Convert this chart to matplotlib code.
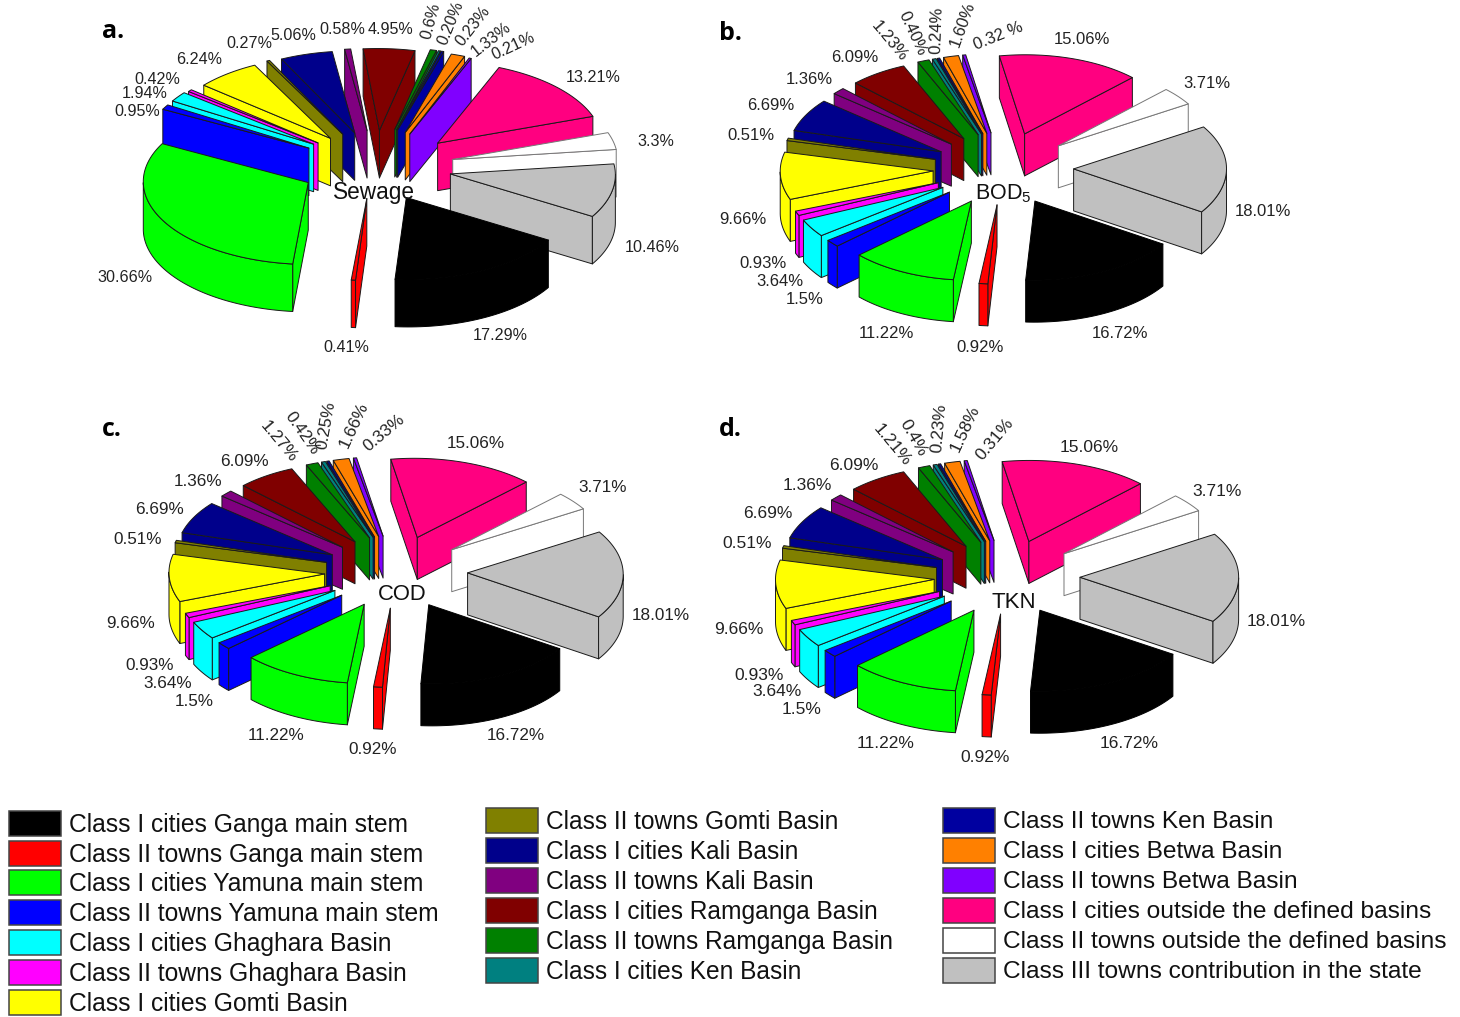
import numpy as np
import matplotlib
matplotlib.use("Agg")
import matplotlib.pyplot as plt
from matplotlib.patches import Polygon, Rectangle

plt.rcParams['font.family'] = ['Liberation Sans', 'DejaVu Sans']
plt.rcParams['mathtext.default'] = 'regular'

# ---------- data ----------
categories = [
    "Class I cities Ganga main stem", "Class II towns Ganga main stem",
    "Class I cities Yamuna main stem", "Class II towns Yamuna main stem",
    "Class I cities Ghaghara Basin", "Class II towns Ghaghara Basin",
    "Class I cities Gomti Basin", "Class II towns Gomti Basin",
    "Class I cities Kali Basin", "Class II towns Kali Basin",
    "Class I cities Ramganga Basin", "Class II towns Ramganga Basin",
    "Class I cities Ken Basin", "Class II towns Ken Basin",
    "Class I cities Betwa Basin", "Class II towns Betwa Basin",
    "Class I cities outside the defined basins",
    "Class II towns outside the defined basins",
    "Class III towns contribution in the state",
]
sewage = [17.29, 0.41, 30.66, 0.95, 1.94, 0.42, 6.24, 0.27, 5.06, 0.58, 4.95, 0.6, 0.20, 0.23, 1.33, 0.21, 13.21, 3.3, 10.46]
bod = [16.72, 0.92, 11.22, 1.5, 3.64, 0.93, 9.66, 0.51, 6.69, 1.36, 6.09, 1.23, 0.40, 0.24, 1.60, 0.32, 15.06, 3.71, 18.01]
cod = [16.72, 0.92, 11.22, 1.5, 3.64, 0.93, 9.66, 0.51, 6.69, 1.36, 6.09, 1.27, 0.42, 0.25, 1.66, 0.33, 15.06, 3.71, 18.01]
tkn = [16.72, 0.92, 11.22, 1.5, 3.64, 0.93, 9.66, 0.51, 6.69, 1.36, 6.09, 1.21, 0.4, 0.23, 1.58, 0.31, 15.06, 3.71, 18.01]

sewage_labels = ["17.29%", "0.41%", "30.66%", "0.95%", "1.94%", "0.42%", "6.24%", "0.27%", "5.06%", "0.58%", "4.95%", "0.6%", "0.20%", "0.23%", "1.33%", "0.21%", "13.21%", "3.3%", "10.46%"]
bod_labels = ["16.72%", "0.92%", "11.22%", "1.5%", "3.64%", "0.93%", "9.66%", "0.51%", "6.69%", "1.36%", "6.09%", "1.23%", "0.40%", "0.24%", "1.60%", "0.32 %", "15.06%", "3.71%", "18.01%"]
cod_labels = ["16.72%", "0.92%", "11.22%", "1.5%", "3.64%", "0.93%", "9.66%", "0.51%", "6.69%", "1.36%", "6.09%", "1.27%", "0.42%", "0.25%", "1.66%", "0.33%", "15.06%", "3.71%", "18.01%"]
tkn_labels = ["16.72%", "0.92%", "11.22%", "1.5%", "3.64%", "0.93%", "9.66%", "0.51%", "6.69%", "1.36%", "6.09%", "1.21%", "0.4%", "0.23%", "1.58%", "0.31%", "15.06%", "3.71%", "18.01%"]

# ---------- styles / layout ----------
colors = ['#000000', '#FF0000', '#00FF00', '#0000FF', '#00FFFF', '#FF00FF', '#FFFF00', '#808000',
          '#00008B', '#800080', '#800000', '#008000', '#008080', '#0000A0', '#FF8000', '#8000FF',
          '#FF0080', '#FFFFFF', '#C0C0C0']

panels = [
    dict(values=sewage, labels=sewage_labels, C=(375, 165), u=(142, 42.5), w=(-84, 70), h=47.5, fs=11.6,
         nudge={0: (-4, -1), 1: (-2, -4), 3: (0, 2), 4: (1, 1), 5: (2, 2), 6: (3, 3), 7: (2, 3), 8: (2, 4), 9: (1, 3),
                10: (0, 3), 11: (2, 1), 12: (2, 1), 13: (2, 1), 14: (6, 3), 15: (7, 4), 16: (8, 4), 17: (4, 3), 18: (1, 1)},
         title="Sewage", title_xy=(374, 192), title_fs=16.3, letter="a.", letter_xy=(113, 31),
         xy=[(500,335),(346,348),(125,277),(137,111),(145,93),(157,79),(199,59),(249,44),(293,36),(342,30),(391,30),(431,21),(451,23),(473,26),(491,39),(513,46),(593,78),(656,141),(652,247)],
         rot={11:75, 12:68, 13:52, 14:38, 15:25}),
    dict(values=bod, labels=bod_labels, C=(1003.3, 168.6), u=(128, 43), w=(-83.6, 66.4), h=42, fs=12,
         nudge={},
         title="BOD$_5$", title_xy=(1003, 194), title_fs=15.5, letter="b.", letter_xy=(730, 33),
         xy=[(1120,333),(980,347),(886,333),(805,299),(780,282),(763,264),(743,220),(751,136),(771,106),(809,79),(855,57),(889,41),(912,33),(937,30),(963,24),(998,36),(1082,39),(1207,84),(1263,212)],
         rot={11:-50, 12:-65, 13:88, 14:70, 15:22}),
    dict(values=cod, labels=cod_labels, C=(396, 572), u=(131, 44), w=(-84, 65.8), h=42, fs=12.3,
         nudge={},
         title="COD", title_xy=(402, 594), title_fs=15.8, letter="c.", letter_xy=(112, 430),
         xy=[(516,735),(373,749),(276,735),(194,702),(168,684),(150,666),(131,623),(138,539),(160,510),(198,482),(244,461),(279,442),(302,433),(326,425),(354,425),(384,433),(476,444),(603,488),(661,615)],
         rot={11:-50, 12:-55, 13:80, 14:65, 15:40}),
    dict(values=tkn, labels=tkn_labels, C=(1007, 577), u=(133, 44), w=(-86.5, 68), h=42, fs=12.5,
         nudge={},
         title="TKN", title_xy=(1014, 602), title_fs=16, letter="d.", letter_xy=(730, 430),
         xy=[(1129,744),(985,758),(886,743),(802,710),(777,692),(759,675),(739,629),(747,544),(768,514),(807,486),(854,465),(892,445),(913,438),(939,428),(965,429),(995,439),(1089,447),(1217,492),(1276,621)],
         rot={11:-50, 12:-60, 13:85, 14:65, 15:50}),
]
EXPLODE = 0.46
EDGE = '#1a1a1a'
LW = 0.7

fig = plt.figure(figsize=(14.6, 10.17), dpi=100)
ax = fig.add_axes([0, 0, 1, 1])
ax.set_xlim(0, 1460)
ax.set_ylim(1017, 0)
ax.axis('off')


def draw_pie(p):
    vals = np.asarray(p['values'], float)
    frac = vals / vals.sum()
    edges = np.concatenate([[0], np.cumsum(frac)]) * 2 * np.pi
    C, u, w = np.array(p['C'], float), np.array(p['u'], float), np.array(p['w'], float)
    pos = lambda a: np.outer(np.cos(a), u) + np.outer(np.sin(a), w)
    wedges = []
    for i in range(len(vals)):
        a0, a1 = edges[i], edges[i + 1]
        mid = 0.5 * (a0 + a1)
        unit = pos(np.array([mid]))[0]
        apex = C + EXPLODE * unit + np.array(p['nudge'].get(i, (0, 0)), float)
        n = max(3, int((a1 - a0) / np.radians(1.5)) + 2)
        aa = np.linspace(a0, a1, n)
        rim = apex + pos(aa)
        depth = (C + (EXPLODE + 0.6) * unit)[1]
        wedges.append((depth, i, apex, rim))
    wedges.sort(key=lambda t: t[0])
    h = np.array([0, p['h']])
    for _, i, apex, rim in wedges:
        col = colors[i]
        ec = '#777777' if col == '#FFFFFF' else ('#000000' if col == '#000000' else EDGE)
        kw = dict(facecolor=col, edgecolor=ec, linewidth=LW, joinstyle='round')
        # radial faces, visible when outline runs leftwards on screen
        if rim[0, 0] < apex[0]:
            ax.add_patch(Polygon([apex, rim[0], rim[0] + h, apex + h], closed=True, **kw))
        if apex[0] < rim[-1, 0]:
            ax.add_patch(Polygon([rim[-1], apex, apex + h, rim[-1] + h], closed=True, **kw))
        # outer strip
        vis = np.diff(rim[:, 0]) < 0
        j = 0
        while j < len(vis):
            if vis[j]:
                k = j
                while k + 1 < len(vis) and vis[k + 1]:
                    k += 1
                seg = rim[j:k + 2]
                ax.add_patch(Polygon(np.vstack([seg, (seg + h)[::-1]]), closed=True, **kw))
                j = k + 1
            else:
                j += 1
        # top
        ax.add_patch(Polygon(np.vstack([apex[None], rim]), closed=True, **kw))


for p in panels:
    draw_pie(p)
    for i, (txt, (x, y)) in enumerate(zip(p['labels'], p['xy'])):
        ax.text(x, y, txt, fontsize=p['fs'], color='#222222', ha='center', va='center',
                rotation=p['rot'].get(i, 0), rotation_mode='anchor', zorder=50)
    ax.text(*p['title_xy'], p['title'], fontsize=p['title_fs'], color='#111111', ha='center', va='center', zorder=51)
    ax.text(*p['letter_xy'], p['letter'], fontsize=18, fontweight='bold', family='Open Sans',
            color='black', ha='center', va='center', zorder=51)

# ---------- legend ----------
legend_cols = [
    dict(x=9, tx=69, fs=17.75, ys=[823, 853, 882, 912, 942, 972, 1002], idx=range(0, 7)),
    dict(x=486, tx=546, fs=17.65, ys=[820, 850, 880, 910, 940, 970], idx=range(7, 13)),
    dict(x=943, tx=1003, fs=17.62, ys=[820, 850, 880, 910, 940, 970], idx=range(13, 19)),
]
for col in legend_cols:
    for y, i in zip(col['ys'], col['idx']):
        ax.add_patch(Rectangle((col['x'], y - 12.5), 52, 25, facecolor=colors[i], edgecolor='#444444', linewidth=1.1))
        ax.text(col['tx'], y + 2, categories[i], fontsize=col['fs'], color='#111111', ha='left', va='center')

fig.savefig('out.png', dpi=100)
